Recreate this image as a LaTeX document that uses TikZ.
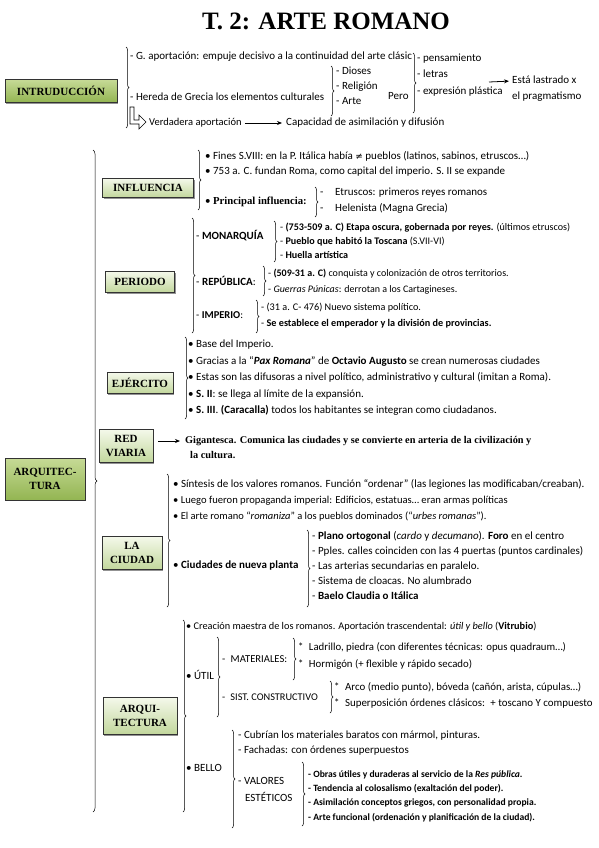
\documentclass[tikz,border=0pt]{standalone}
\usepackage{fontspec}
\setmainfont{Carlito}
\newfontfamily\cajafont{Liberation Serif}
\newfontfamily\simbolos{DejaVu Sans}
\usetikzlibrary{decorations.pathreplacing, arrows.meta, shadows, positioning}

\definecolor{verdeclaro}{HTML}{F4F8EA}
\definecolor{verdemedio}{HTML}{C2D79C}
\definecolor{verdetop}{HTML}{C6DA96}
\definecolor{verdefuerte}{HTML}{93B552}

\newcommand\tam[1]{\fontsize{#1}{13}\selectfont}

\tikzset{
  txt/.style={anchor=west, inner sep=0pt, text height=7.5pt, text depth=2.5pt, font=\tam{11}},
  txtb/.style={txt, font=\bfseries\tam{9.6}},
  llave/.style={decorate, decoration={brace, amplitude=3pt}, line width=0.5pt},
  caja/.style={draw=black!80, line width=0.8pt, align=center, inner sep=1pt,
    font=\cajafont\bfseries\fontsize{11}{14}\selectfont,
    drop shadow={shadow xshift=1.3pt, shadow yshift=-1.3pt, fill=black!60, opacity=0.7}},
  cajamain/.style={caja, top color=verdetop, bottom color=verdefuerte},
  cajasub/.style={caja, top color=verdeclaro, bottom color=verdemedio},
  flecha/.style={-{Stealth[length=5pt, width=4pt]}, line width=0.8pt}
}

\begin{document}
\begin{tikzpicture}[x=1pt, y=-1pt]
\fill[white] (0,0) rectangle (599,848);
\useasboundingbox (0,0) rectangle (599,848);

% titulo
\node[font=\cajafont\bfseries\fontsize{25}{28}\selectfont] (titulo) at (326,21) {T. 2: ARTE ROMANO};

% introduccion
\node[cajamain, minimum width=112pt, minimum height=23pt] (intro) at (61,91) {INTRUDUCCIÓN};
\draw[llave] (126,47) -- (126,128);
\node[txt] (gapor) at (130,57) {- G. aportación: empuje decisivo a la continuidad del arte clásic};
\node[txt] (hereda) at (130,98) {- Hereda de Grecia los elementos culturales};
\draw[llave] (331,66) -- (331,116);
\node[txt] (dioses) at (336,72) {- Dioses};
\node[txt] (relig) at (336,87) {- Religión};
\node[txt] (arte) at (336,102) {- Arte};
\node[txt] (pero) at (388,97) {Pero};
\draw[llave] (413,53) -- (413,113);
\node[txt] (pensa) at (417,59) {- pensamiento};
\node[txt] (letras) at (417,75) {- letras};
\node[txt] (expre) at (417,92) {- expresión plástica};
\coordinate (lastre0) at (489,82);
\node[txt] (lastre1) at (512,81) {Está lastrado x};
\node[txt] (lastre2) at (512,97) {el pragmatismo};
\draw[flecha, shorten >=3pt] (lastre0) -- (lastre1.west);
\draw[line width=0.6pt] (130,107) -- (134,107) -- (134,120) -- (139,120) -- (139,115)
  -- (146,122) -- (139,129) -- (139,124) -- (130,124) -- cycle;
\node[txt, font=\tam{10.5}] (verd) at (149,123) {Verdadera aportación};
\node[txt] (capac) at (286,123) {Capacidad de asimilación y difusión};
\draw[flecha, shorten <=3pt, shorten >=4pt] (verd.east) -- (capac.west);

% arquitectura
\node[cajamain, minimum width=80pt, minimum height=42pt] (arq) at (45,479) {ARQUITEC-\\TURA};
\draw[llave, decoration={amplitude=4pt}] (93,150) -- (93,812);

% influencia
\node[cajasub, minimum width=91pt, minimum height=19pt] (influ) at (148,188) {INFLUENCIA};
\draw[llave] (198,150) -- (198,210);
\node[txt] (inf1) at (205,157) {• Fines S.VIII: en la P. Itálica había {\simbolos\tam{9}≠} pueblos (latinos, sabinos, etruscos…)};
\node[txt] (inf2) at (205,172) {• 753 a. C. fundan Roma, como capital del imperio. S. II se expande};
\node[txt] (inf3) at (205,202) {• {\cajafont\bfseries\tam{10.7}Principal influencia:}};
\draw[llave] (315,187) -- (315,217);
\node[txt] (etrus) at (320,193) {\makebox[15pt][l]{-}Etruscos: primeros reyes romanos};
\node[txt] (helen) at (320,209) {\makebox[15pt][l]{-}Helenista (Magna Grecia)};

% periodo
\node[cajasub, minimum width=69pt, minimum height=21pt] (perio) at (140,282) {PERIODO};
\draw[llave] (192,218) -- (192,333);
\node[txt] (mona) at (196,237) {- \textbf{MONARQUÍA}};
\draw[llave] (274,221) -- (274,262);
\node[txt, font=\tam{10.1}] (mona1) at (280,228) {- \textbf{(753-509 a. C) Etapa oscura, gobernada por reyes.} (últimos etruscos)};
\node[txt, font=\tam{10.1}] (mona2) at (280,242) {- \textbf{Pueblo que habitó la Toscana} (S.VII-VI)};
\node[txt, font=\tam{10.1}] (mona3) at (280,256) {- \textbf{Huella artística}};
\node[txt] (repu) at (196,283) {- \textbf{REPÚBLICA}:};
\draw[llave] (263,266) -- (263,296);
\node[txt, font=\tam{10}] (repu1) at (268,274) {- \textbf{(509-31 a. C)} conquista y colonización de otros territorios.};
\node[txt, font=\tam{10}] (repu2) at (268,290) {- \textit{Guerras Púnicas}: derrotan a los Cartagineses.};
\node[txt, font=\tam{10.5}] (impe) at (196,316) {- \textbf{IMPERIO}:};
\draw[llave] (256,300) -- (256,333);
\node[txt, font=\tam{10.2}] (impe1) at (261,308) {- (31 a. C- 476) Nuevo sistema político.};
\node[txt, font=\tam{10.2}] (impe2) at (261,324) {- \textbf{Se establece el emperador y la división de provincias.}};

% ejercito
\node[cajasub, minimum width=66pt, minimum height=21pt] (ejer) at (140,383) {EJÉRCITO};
\draw[llave] (185,337) -- (185,419);
\node[txt] (ejer1) at (188,345) {• Base del Imperio.};
\node[txt] (ejer2) at (188,362) {• Gracias a la “\textbf{\textit{Pax Romana}}” de \textbf{Octavio Augusto} se crean numerosas ciudades};
\node[txt] (ejer3) at (188,378) {• Estas son las difusoras a nivel político, administrativo y cultural (imitan a Roma).};
\node[txt] (ejer4) at (188,395) {• \textbf{S. II}: se llega al límite de la expansión.};
\node[txt] (ejer5) at (188,411) {• \textbf{S. III}. \textbf{(Caracalla)} todos los habitantes se integran como ciudadanos.};

% red viaria
\node[cajasub, minimum width=54pt, minimum height=33pt] (red) at (126,446) {RED\\VIARIA};
\node[txt, font=\cajafont\bfseries\tam{10.3}] (giga) at (185,441) {Gigantesca. Comunica las ciudades y se convierte en arteria de la civilización y};
\node[txt, font=\cajafont\bfseries\tam{10.3}] (giga2) at (190,456) {la cultura.};
\draw[flecha, shorten <=5pt, shorten >=5pt] (red.east |- giga.west) -- (giga.west);

% la ciudad
\node[cajasub, minimum width=60pt, minimum height=33pt] (ciudad) at (132,553) {LA\\CIUDAD};
\draw[llave] (167,474) -- (167,607);
\node[txt] (ciu1) at (173,485) {• Síntesis de los valores romanos. Función “ordenar” (las legiones las modificaban/creaban).};
\node[txt, font=\tam{10.6}] (ciu2) at (173,501) {• Luego fueron propaganda imperial: Edificios, estatuas… eran armas políticas};
\node[txt, font=\tam{10.5}] (ciu3) at (173,517) {• El arte romano “\textit{romaniza}” a los pueblos dominados (“\textit{urbes romanas}”).};
\node[txt] (ciu4) at (173,566) {• \textbf{Ciudades de nueva planta}};
\draw[llave] (307,530) -- (307,607);
\node[txt] (plan1) at (312,537) {- \textbf{Plano ortogonal} (\textit{cardo} y \textit{decumano}). \textbf{Foro} en el centro};
\node[txt] (plan2) at (312,552) {- Pples. calles coinciden con las 4 puertas (puntos cardinales)};
\node[txt] (plan3) at (312,567) {- Las arterias secundarias en paralelo.};
\node[txt] (plan4) at (312,582) {- Sistema de cloacas. No alumbrado};
\node[txt] (plan5) at (312,597) {- \textbf{Baelo Claudia o Itálica}};

% arquitectura (sub)
\node[cajasub, minimum width=74pt, minimum height=37pt] (arqui) at (140,716) {ARQUI-\\TECTURA};
\draw[llave] (183,620) -- (183,812);
\node[txt, font=\tam{10.3}] (crea) at (186,627) {• Creación maestra de los romanos. Aportación trascendental: \textit{útil y bello} (\textbf{Vitrubio})};
\node[txt] (util) at (186,677) {• ÚTIL};
\draw[llave] (217,637) -- (217,717);
\node[txt, font=\tam{10.6}] (mate) at (222,660) {-\enspace MATERIALES:};
\draw[llave] (293,638) -- (293,680);
\node[txt, font=\tam{10.8}] (ladr) at (298,648) {*\enspace Ladrillo, piedra (con diferentes técnicas: opus quadraum…)};
\node[txt, font=\tam{10.8}] (horm) at (298,665) {*\enspace Hormigón (+ flexible y rápido secado)};
\node[txt, font=\tam{10.3}] (sist) at (222,698) {-\enspace SIST. CONSTRUCTIVO};
\draw[llave] (330,681) -- (330,713);
\node[txt, font=\tam{10.9}] (arco) at (334,688) {*\enspace Arco (medio punto), bóveda (cañón, arista, cúpulas…)};
\node[txt, font=\tam{10.9}] (super) at (334,704) {*\enspace Superposición órdenes clásicos:\enspace + toscano Y compuesto};
\node[txt] (bello) at (186,769) {• BELLO};
\draw[llave] (232,730) -- (232,828);
\node[txt] (cubr) at (238,736) {- Cubrían los materiales baratos con mármol, pinturas.};
\node[txt] (facha) at (238,751) {- Fachadas: con órdenes superpuestos};
\node[txt] (valo1) at (238,782) {- VALORES};
\node[txt] (valo2) at (245,799) {ESTÉTICOS};
\draw[llave] (302,762) -- (302,826);
\node[txtb] (est1) at (308,775) {- Obras útiles y duraderas al servicio de la \textit{Res pública}.};
\node[txtb] (est2) at (308,789) {- Tendencia al colosalismo (exaltación del poder).};
\node[txtb] (est3) at (308,803) {- Asimilación conceptos griegos, con personalidad propia.};
\node[txtb] (est4) at (308,818) {- Arte funcional (ordenación y planificación de la ciudad).};

\end{tikzpicture}
\end{document}
